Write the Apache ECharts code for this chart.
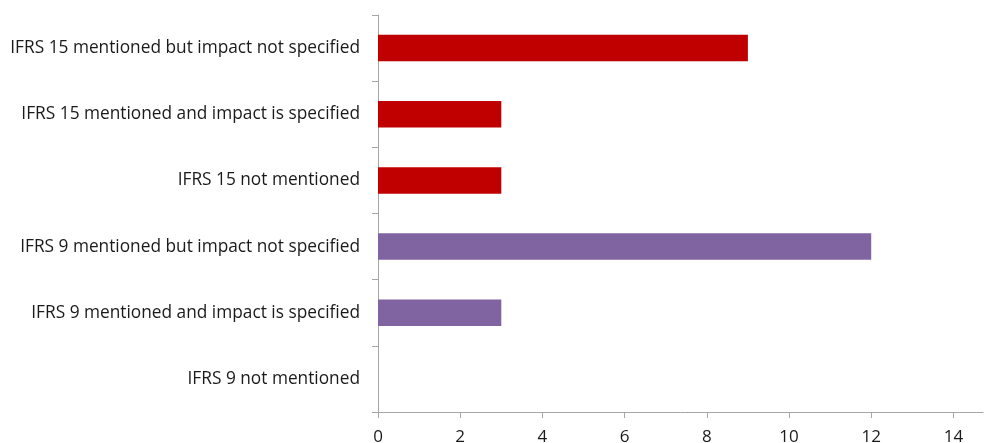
<!DOCTYPE html>
<html>
<head>
<meta charset="utf-8">
<script src="https://cdn.jsdelivr.net/npm/echarts@6/dist/echarts.min.js"></script>
<style>
  html, body { margin: 0; padding: 0; background: #fff; }
  #chart { width: 984px; height: 443px; }
</style>
</head>
<body>
<div id="chart"></div>
<script>
// Disclosure categories, listed top to bottom
const categories = [
  'IFRS 15 mentioned but impact not specified',
  'IFRS 15 mentioned and impact is specified',
  'IFRS 15 not mentioned',
  'IFRS 9 mentioned but impact not specified',
  'IFRS 9 mentioned and impact is specified',
  'IFRS 9 not mentioned'
];
// Number of companies per category
const counts = [9, 3, 3, 12, 3, 0];
// Standard each category belongs to
const standards = ['IFRS 15', 'IFRS 15', 'IFRS 15', 'IFRS 9', 'IFRS 9', 'IFRS 9'];
const xTicks = [0, 2, 4, 6, 8, 10, 12, 14];

const standardColors = { 'IFRS 15': '#C00000', 'IFRS 9': '#8064A2' };
const font = 'Open Sans';
const axisGrey = '#a6a6a6';

const chart = echarts.init(document.getElementById('chart'), null, { renderer: 'canvas' });
chart.setOption({
  animation: false,
  grid: {
    left: 378, right: 1, top: 15, bottom: 31,
    containLabel: false,
    outerBoundsMode: 'none'
  },
  xAxis: {
    type: 'value',
    min: xTicks[0],
    // axis line runs a little past the last labelled tick
    max: 14.72,
    interval: 2,
    axisLine: { show: true, lineStyle: { color: axisGrey, width: 1 } },
    axisTick: { show: true, length: 6, lineStyle: { color: axisGrey } },
    axisLabel: {
      color: '#1a1a1a', fontFamily: font, fontSize: 17, margin: 17,
      showMaxLabel: false,
      formatter: v => (xTicks.indexOf(v) >= 0 ? String(v) : '')
    },
    splitLine: { show: false }
  },
  yAxis: {
    type: 'category',
    inverse: true,
    data: categories,
    axisLine: { show: true, lineStyle: { color: axisGrey, width: 1 } },
    axisTick: { show: true, length: 6, lineStyle: { color: axisGrey } },
    axisLabel: {
      color: '#1a1a1a', fontFamily: font, fontSize: 17.3, margin: 18,
      padding: [4, 0, 0, 0]
    }
  },
  series: [{
    type: 'bar',
    barWidth: '40%',
    data: counts.map((v, i) => ({
      value: v,
      itemStyle: { color: standardColors[standards[i]] }
    }))
  }]
});
</script>
</body>
</html>
